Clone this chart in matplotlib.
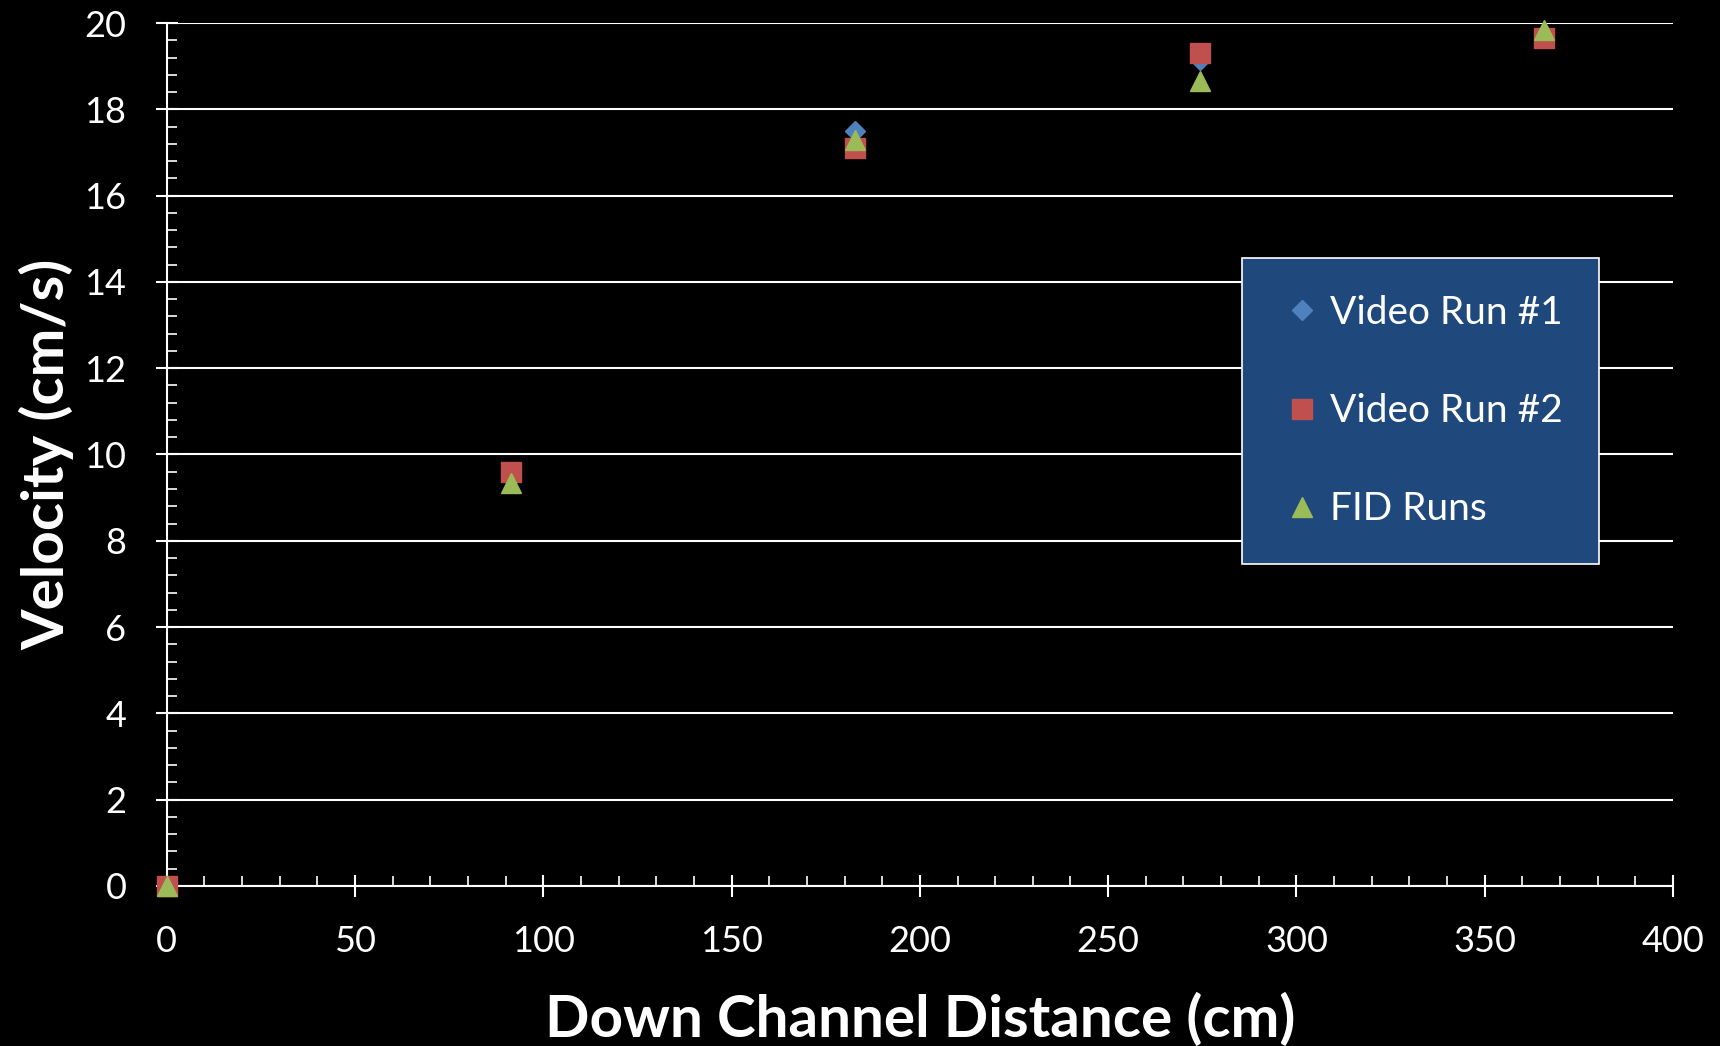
import numpy as np
import matplotlib
matplotlib.use('Agg')
import matplotlib.pyplot as plt
from matplotlib.ticker import MultipleLocator

plt.rcParams['font.family'] = ['Lato', 'DejaVu Sans']

# down channel stations (cm) and measured velocities (cm/s)
distance = [0, 91.44, 182.88, 274.32, 365.76]
video_run1 = [0, 9.5, 17.5, 19.15, 19.7]
video_run2 = [0, 9.6, 17.1, 19.3, 19.65]
fid_runs = [0, 9.33, 17.28, 18.66, 19.83]

fig = plt.figure(figsize=(17.2, 10.46), dpi=100, facecolor='black')
ax = fig.add_axes([0.0969, 0.153, 0.8758, 0.825], facecolor='black')

ax.plot(distance, video_run1, linestyle='none', marker='D', ms=10, c='#4F81BD',
        mec='#4F81BD', label='Video Run #1', zorder=3, clip_on=False)
ax.plot(distance, video_run2, linestyle='none', marker='s', ms=14, c='#C0504D',
        mec='#C0504D', label='Video Run #2', zorder=4, clip_on=False)
ax.plot(distance, fid_runs, linestyle='none', marker='^', ms=15, c='#9BBB59',
        mec='#9BBB59', label='FID Runs', zorder=5, clip_on=False)

ax.set_xlim(0, 400)
ax.set_ylim(0, 20)
ax.xaxis.set_major_locator(MultipleLocator(50))
ax.xaxis.set_minor_locator(MultipleLocator(10))
ax.yaxis.set_major_locator(MultipleLocator(2))
ax.yaxis.set_minor_locator(MultipleLocator(0.4))

ax.grid(axis='y', which='major', color='white', lw=1.5)
ax.set_axisbelow(True)
for side in ['top', 'right']:
    ax.spines[side].set_visible(False)
for side in ['left', 'bottom']:
    ax.spines[side].set_color('white')
    ax.spines[side].set_linewidth(1.5)

ax.tick_params(which='major', direction='inout', length=16, width=1.5,
               colors='white', labelsize=26, pad=21)
ax.tick_params(which='minor', direction='in', length=7, width=1.2, colors='white')
ax.tick_params(axis='x', which='major', pad=20)

ax.set_xlabel('Down Channel Distance (cm)', color='white', fontsize=42,
              fontweight='bold', labelpad=25)
ax.set_ylabel('Velocity (cm/s)', color='white', fontsize=42,
              fontweight='bold', labelpad=7)

leg = ax.legend(loc='upper left', bbox_to_anchor=(0.7139, 0.7277), fontsize=28,
                borderaxespad=0, facecolor='#1F497D', edgecolor='white',
                framealpha=1, fancybox=False, labelspacing=1.6, borderpad=0.95,
                handletextpad=0.1, handlelength=1.2, numpoints=1)
leg.get_frame().set_linewidth(1.2)
for t in leg.get_texts():
    t.set_color('white')

fig.savefig('out.png', dpi=100, facecolor='black')
